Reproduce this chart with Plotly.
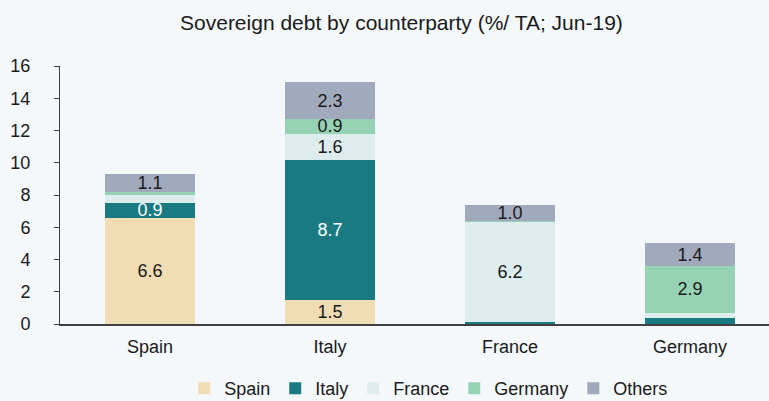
import plotly.graph_objects as go

categories = ["Spain", "Italy", "France", "Germany"]
series_names = ["Spain", "Italy", "France", "Germany", "Others"]
spain = [6.6, 1.5, 0.02, 0.02]
italy = [0.9, 8.7, 0.12, 0.33]
france = [0.5, 1.6, 6.2, 0.35]
germany = [0.2, 0.9, 0.06, 2.9]
others = [1.1, 2.3, 1.0, 1.4]

colors = ["#F0DDB4", "#1A7A82", "#DDECEC", "#96D3B5", "#A1A9BD"]
text_colors = ["#1a1a1a", "#ffffff", "#1a1a1a", "#1a1a1a", "#1a1a1a"]
FONT = "Liberation Sans, Arial, sans-serif"

fig = go.Figure()
for name, vals, col, tc in zip(series_names, [spain, italy, france, germany, others], colors, text_colors):
    labels = [f"{v:.1f}" if v >= 0.85 else "" for v in vals]
    fig.add_trace(go.Bar(
        x=categories, y=vals, name=name,
        marker=dict(color=col, line=dict(width=0)),
        text=labels, textposition="inside", insidetextanchor="middle",
        textangle=0, constraintext="none",
        textfont=dict(family=FONT, size=18, color=tc),
        hoverinfo="skip", width=0.5,
    ))

fig.update_layout(
    barmode="stack",
    width=769, height=401,
    margin=dict(l=60, r=0, t=66, b=77, autoexpand=False),
    paper_bgcolor="#F4F8FA", plot_bgcolor="#F4F8FA",
    font=dict(family=FONT, size=18, color="#1a1a1a"),
    title=dict(text="Sovereign debt by counterparty (%/ TA; Jun-19)", x=0.522, xanchor="center",
               y=0.943, yanchor="middle", font=dict(size=21, color="#1a1a1a")),
    showlegend=True,
    legend=dict(orientation="h", x=0.52, xanchor="center", y=-0.25, yanchor="middle",
                font=dict(size=18), itemwidth=30, traceorder="normal", bgcolor="rgba(0,0,0,0)"),
    uniformtext=dict(mode=False),
)
fig.update_xaxes(range=[-0.5, 3.439], showline=True, linecolor="#404040", linewidth=1.5,
                 ticks="", showgrid=False, tickfont=dict(size=18), ticklabelstandoff=6,
                 fixedrange=True)
fig.update_yaxes(range=[0, 16], dtick=2, showline=True, linecolor="#404040", linewidth=1,
                 ticks="outside", ticklen=5, tickcolor="#404040", showgrid=False, zeroline=False,
                 tickfont=dict(size=18), ticklabelstandoff=20)

fig.write_html("out.html")
